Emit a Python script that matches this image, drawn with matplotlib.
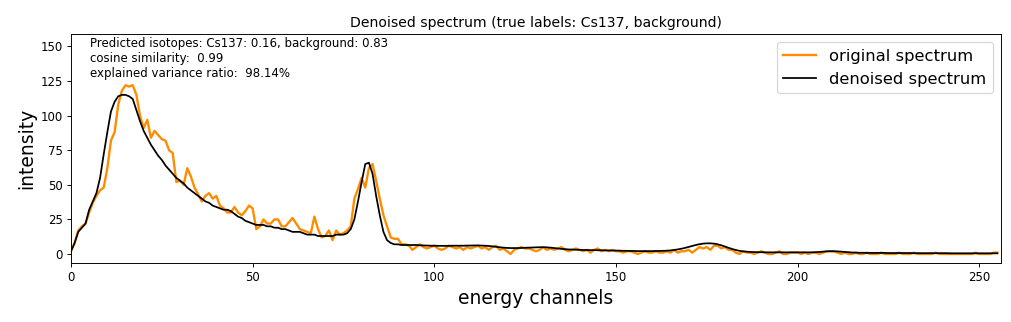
import numpy as np
import matplotlib
matplotlib.use("Agg")
import matplotlib.pyplot as plt
from matplotlib.ticker import MultipleLocator

# original spectrum, channels 0..255
original = [
    2, 8, 17, 20, 22, 30, 37, 42, 46, 48,
    62, 82, 88, 108, 118, 122, 121, 122, 115, 100,
    91, 97, 84, 89, 86, 83, 82, 75, 73, 52,
    53, 50, 62, 56, 48, 43, 38, 42, 44, 40,
    42, 35, 33, 30, 30, 34, 30, 28, 31, 35,
    33, 18, 20, 25, 22, 22, 25, 25, 20, 20,
    23, 26, 22, 18, 17, 16, 15, 27, 18, 12,
    13, 17, 10, 17, 14, 15, 17, 20, 40, 47,
    55, 48, 62, 65, 53, 40, 28, 20, 12, 11,
    11, 7, 7, 6, 3, 5, 7, 5, 4, 5,
    6, 4, 3, 4, 6, 5, 4, 5, 3, 5,
    4, 5, 6, 4, 5, 3, 5, 6, 3, 4,
    2, 0, 3, 4, 5, 4, 4, 3, 2, 3,
    5, 3, 4, 3, 4, 5, 3, 2, 3, 4,
    3, 2, 3, 1, 3, 4, 2, 3, 2, 3,
    2, 2, 1, 2, 2, 1, 0, 1, 2, 1,
    1, 2, 1, 1, 2, 1, 3, 1, 2, 2,
    3, 1, 3, 5, 4, 5, 3, 6, 6, 4,
    5, 3, 3, 1, 0, 2, 1, 1, 0, 1,
    2, 1, 0, 0, 1, 2, 0, 0, 1, 1,
    1, 0, 1, 0, 1, 1, 0, 1, 2, 2,
    2, 1, 0, 1, 0, 0, 1, 0, 0, 1,
    0, 0, 0, 1, 0, 0, 0, 0, 1, 0,
    0, 0, 1, 0, 0, 0, 0, 0, 1, 0,
    0, 0, 0, 0, 0, 0, 0, 0, 0, 1,
    0, 0, 0, 0, 1, 1,
]

# denoised spectrum, channels 0..255
denoised = [
    2, 8, 16, 19, 22, 32, 38, 44, 55, 72,
    88, 103, 110, 114, 115, 115, 114, 112, 104, 96,
    89, 84, 79, 75, 71, 68, 64, 61, 58, 55,
    53, 51, 48, 46, 44, 42, 40, 38, 37, 35,
    34, 33, 32, 32, 31, 29, 27, 26, 24, 23,
    22, 21, 21, 21, 20, 20, 19, 19, 18, 18,
    17, 16, 16, 16, 15, 14, 14, 14, 13, 13,
    13, 13, 13, 14, 14, 14, 15, 18, 25, 38,
    52, 65, 66, 58, 42, 28, 16, 10, 8, 7,
    7, 6.5, 6.5, 6.5, 6.5, 6.5, 6.3, 6.2, 6.1, 6.0,
    6.0, 5.9, 5.9, 5.9, 5.9, 6.0, 6.0, 6.0, 6.0, 6.1,
    6.1, 6.2, 6.2, 6.1, 6.0, 5.8, 5.5, 5.2, 4.9, 4.6,
    4.4, 4.3, 4.3, 4.3, 4.4, 4.5, 4.6, 4.7, 4.8, 4.9,
    4.9, 4.8, 4.6, 4.3, 4.0, 3.7, 3.5, 3.3, 3.2, 3.1,
    3.0, 2.9, 2.9, 2.8, 2.8, 2.7, 2.7, 2.6, 2.6, 2.5,
    2.5, 2.4, 2.3, 2.3, 2.2, 2.2, 2.1, 2.1, 2.1, 2.1,
    2.1, 2.2, 2.2, 2.3, 2.4, 2.6, 2.9, 3.3, 3.8, 4.4,
    5.1, 5.8, 6.5, 7.1, 7.5, 7.7, 7.7, 7.5, 7.0, 6.3,
    5.4, 4.5, 3.6, 2.9, 2.3, 1.9, 1.7, 1.5, 1.4, 1.3,
    1.3, 1.2, 1.2, 1.2, 1.2, 1.2, 1.2, 1.2, 1.2, 1.2,
    1.2, 1.2, 1.2, 1.2, 1.2, 1.3, 1.5, 1.7, 1.9, 2.0,
    2.0, 1.9, 1.7, 1.5, 1.3, 1.1, 1.0, 0.9, 0.9, 0.8,
    0.8, 0.8, 0.8, 0.8, 0.8, 0.7, 0.7, 0.7, 0.7, 0.7,
    0.7, 0.7, 0.6, 0.6, 0.6, 0.6, 0.6, 0.6, 0.6, 0.6,
    0.6, 0.6, 0.5, 0.5, 0.5, 0.5, 0.5, 0.5, 0.5, 0.5,
    0.5, 0.5, 0.5, 0.5, 0.5, 0.5,
]

info_lines = [
    "Predicted isotopes: Cs137: 0.16, background: 0.83",
    "cosine similarity:  0.99",
    "explained variance ratio:  98.14%",
]

channels = np.arange(len(original))

fig = plt.figure(figsize=(1011 / 84.25, 322 / 84.25), dpi=84.25)
ax = fig.add_axes([71 / 1011, 59 / 322, 930 / 1011, 229 / 322])

ax.plot(channels, original, color="darkorange", linewidth=2, label="original spectrum")
ax.plot(channels, denoised, color="black", linewidth=1.5, label="denoised spectrum")

ax.text(0.02, 0.985, "\n".join(info_lines), transform=ax.transAxes,
        va="top", ha="left", fontsize=10)

ax.set_xlim(0, 256)
ax.set_ylim(-6.5, 159)
ax.yaxis.set_major_locator(MultipleLocator(25))
ax.set_xlabel("energy channels", fontsize=16)
ax.set_ylabel("intensity", fontsize=16)
ax.set_title("Denoised spectrum (true labels: Cs137, background)", fontsize=12)
ax.legend(loc="upper right", fontsize=14)

fig.savefig("out.png", dpi=84.25)
